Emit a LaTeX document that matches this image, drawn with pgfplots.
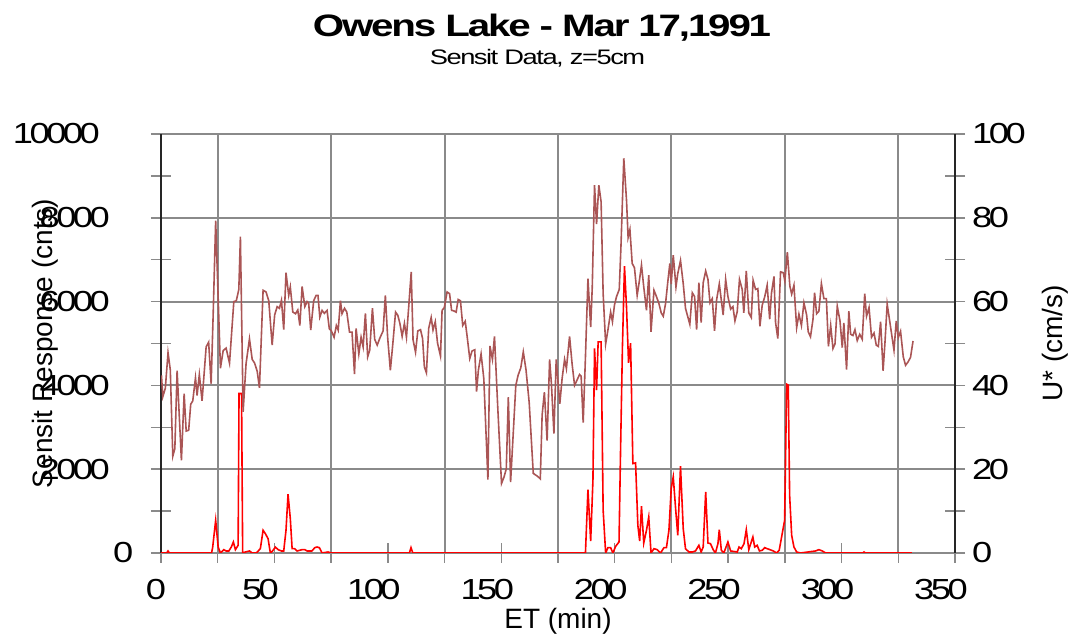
\documentclass[border=0pt]{standalone}
\usepackage{fontspec}
\setmainfont{Liberation Sans}
\newfontfamily\wide{Liberation Sans}[FakeStretch=1.3,LetterSpace=-7]
\newfontfamily\digits{Liberation Sans}[FakeStretch=1.25,LetterSpace=-12]
\usepackage{pgfplots}
\pgfplotsset{compat=1.18}
\definecolor{ustar}{RGB}{170,85,85}
\definecolor{gridc}{RGB}{138,138,138}
\newcommand\tickfnt{\digits\fontsize{29}{29}\selectfont}
\newcommand\labfnt{\fontsize{28}{28}\selectfont}

% U* (cm/s), right axis
\pgfplotstableread{
x u
0.2 42.4
0.8 37.3
1.9 39.3
3.1 47.8
4.1 43.7
5.2 23.1
6.1 24.9
7.1 43.5
9.0 22.1
10.2 38.0
11.1 29.1
12.2 29.3
13.1 35.5
14.0 36.3
15.2 41.8
15.9 37.6
16.9 42.6
18.1 36.3
19.9 49.2
21.0 50.3
22.1 40.4
23.0 57.0
24.1 79.3
26.2 44.1
27.4 48.3
28.7 48.9
30.2 45.3
32.1 60.0
33.2 60.2
34.3 62.9
35.0 75.5
36.2 33.7
37.5 45.2
39.0 51.1
40.2 46.2
41.2 45.4
42.4 43.4
43.4 39.4
45.0 62.7
46.3 62.3
47.5 60.2
49.0 49.6
50.1 56.8
51.2 58.8
52.2 58.4
53.1 60.3
54.1 53.3
55.1 66.9
56.3 61.5
57.0 63.5
58.1 57.5
59.3 57.1
60.3 58.0
61.2 54.3
62.2 63.6
63.4 58.8
64.4 60.0
65.1 59.6
66.0 53.2
67.3 60.2
68.4 61.5
69.2 61.5
70.0 56.3
71.0 57.9
72.0 57.2
73.2 57.9
74.2 53.5
75.1 53.0
76.3 51.5
77.3 54.3
78.1 53.2
79.1 60.2
79.8 57.1
80.9 58.4
81.9 57.5
83.1 52.7
84.2 52.7
85.3 42.7
86.0 53.6
87.2 47.5
88.2 51.5
89.1 49.2
90.1 57.2
91.1 46.8
92.0 48.4
93.2 58.4
94.2 51.0
95.3 49.6
96.4 51.2
97.9 53.0
98.9 61.5
99.9 51.5
101.1 43.6
102.2 50.0
103.4 57.5
104.4 56.7
105.3 54.8
106.3 51.7
107.3 54.8
108.2 51.5
109.2 58.8
110.3 67.1
111.1 50.9
112.2 47.9
113.2 53.0
114.4 53.3
115.3 51.2
116.1 44.4
117.0 43.0
118.0 53.6
119.1 56.2
119.9 53.2
120.9 55.2
121.9 50.1
123.2 47.0
123.9 57.9
124.9 58.6
126.1 62.3
127.2 61.9
128.1 57.9
129.0 57.8
130.1 57.5
131.0 60.5
132.0 60.2
133.0 54.3
134.1 55.3
134.9 51.9
136.1 46.4
137.1 48.2
138.3 48.5
139.1 38.5
139.9 43.6
141.1 47.5
142.3 41.6
144.1 17.5
145.0 49.4
146.1 46.2
147.0 51.7
148.5 34.1
150.1 16.6
151.2 18.1
152.2 20.1
153.1 37.2
154.1 16.9
155.3 28.9
156.4 40.0
157.4 42.4
158.6 44.2
159.7 48.0
160.9 43.7
162.3 35.9
164.1 19.0
166.0 18.3
167.2 17.7
168.0 32.9
169.0 38.4
170.2 26.8
171.3 46.2
172.1 40.4
173.2 28.5
174.2 46.2
174.9 41.6
175.8 35.6
176.8 41.6
177.9 46.2
178.7 44.0
180.1 51.7
181.2 45.2
182.3 40.0
183.5 41.4
184.5 42.6
185.2 42.2
186.1 31.1
187.1 46.8
188.2 65.5
189.4 53.9
190.1 63.5
191.1 87.8
192.0 78.5
193.0 87.8
194.0 83.8
194.9 61.9
196.0 49.9
197.0 53.2
198.2 57.5
199.0 55.2
199.9 59.2
200.8 61.2
202.0 62.9
202.8 73.9
204.0 94.2
205.2 84.2
205.9 75.3
206.7 77.2
207.7 69.1
208.7 68.1
209.9 61.5
210.8 64.7
211.8 68.7
212.8 63.5
214.0 57.9
215.0 66.3
216.0 52.8
217.3 62.7
218.4 61.2
219.5 59.5
220.5 57.3
221.4 56.5
222.4 59.5
223.4 64.7
224.3 69.1
224.9 64.2
225.8 71.1
227.0 63.5
227.8 66.7
229.0 69.8
230.2 64.3
231.2 58.4
232.3 56.2
233.1 54.6
234.2 62.1
235.2 61.2
236.1 53.3
237.1 64.5
238.1 55.0
239.0 64.5
240.1 67.3
241.1 65.3
242.0 59.7
243.0 60.7
244.0 53.0
244.9 60.4
246.1 64.2
247.8 56.8
248.9 65.3
249.9 61.2
251.1 58.2
252.1 58.8
253.0 55.4
254.0 57.6
255.0 65.3
256.2 62.9
256.9 57.3
258.0 67.3
259.1 57.3
260.2 56.2
261.0 65.1
262.1 62.9
263.1 63.1
264.0 54.1
265.0 59.1
266.1 61.1
267.2 63.9
268.3 55.8
269.1 62.0
270.2 66.0
270.9 55.0
271.9 51.2
273.1 67.1
274.3 66.9
275.0 64.9
276.1 71.8
277.2 63.7
278.0 61.8
279.0 63.9
280.2 53.8
281.2 57.0
282.3 54.3
283.4 59.7
284.6 56.8
285.3 52.8
286.3 51.6
287.4 55.8
288.1 62.1
289.0 57.1
290.0 57.7
291.1 64.3
292.2 60.7
293.3 60.7
294.2 49.3
295.2 54.3
296.2 48.8
297.1 49.9
298.1 58.9
299.3 55.4
300.3 49.0
301.0 54.9
302.2 43.8
303.2 57.7
304.0 52.2
305.0 51.9
305.9 53.3
306.9 50.7
308.0 52.2
309.1 51.0
310.2 61.9
311.0 56.5
312.1 58.6
313.2 51.5
314.3 52.5
315.3 49.6
316.2 49.3
317.2 55.2
318.3 43.5
319.1 50.0
320.1 59.4
321.2 55.4
323.1 48.4
324.1 55.4
325.0 51.4
326.0 52.9
327.2 46.8
328.2 44.8
329.3 45.6
330.4 46.7
331.5 50.6
}\ustartab

% Sensit response (counts), left axis
\pgfplotstableread{
x s
0.0 0
2.5 0
3.1 48
3.7 0
22.3 0
22.8 143
24.1 781
25.2 143
26.2 0
27.7 80
28.7 48
29.9 48
31.0 143
31.9 263
32.8 80
34.0 183
34.4 3806
35.5 3806
36.0 0
37.2 24
39.0 48
40.2 0
42.0 0
43.8 103
45.0 542
46.0 462
47.2 342
48.2 0
49.2 48
50.4 143
51.6 80
53.1 48
54.1 48
55.1 542
56.0 1402
57.0 820
57.8 103
58.9 103
60.0 48
62.2 80
63.4 80
64.4 48
66.5 48
67.8 127
68.8 143
69.8 127
71.0 0
73.6 24
75.0 0
109.5 0
110.2 127
111.0 0
187.1 0
188.2 1514
189.4 287
190.4 1736
191.1 4881
192.0 3885
192.7 5039
194.0 5039
194.9 1020
196.0 0
197.0 127
198.2 127
199.2 0
200.4 159
201.9 263
202.6 2531
203.4 4919
204.3 6846
205.2 5874
206.1 4537
207.0 5010
208.0 2134
209.2 2150
210.2 660
211.0 287
211.8 1115
212.8 239
214.0 542
215.0 860
216.0 0
217.3 103
218.7 80
220.2 0
221.7 127
222.8 127
223.9 542
224.9 1538
225.8 1816
226.9 1020
227.8 422
229.0 2070
230.2 581
231.2 103
232.7 24
234.2 24
235.6 48
237.1 183
238.1 24
239.0 143
240.1 1457
241.1 239
242.2 223
243.4 80
244.4 0
245.5 223
246.1 557
247.0 64
248.1 0
249.9 263
251.1 48
254.0 24
254.8 143
255.8 103
257.0 223
258.0 557
259.1 80
260.9 382
261.7 143
262.8 183
263.8 48
265.0 64
266.1 127
267.2 103
268.4 80
269.9 48
271.4 0
272.5 64
273.7 422
274.9 781
275.8 4028
276.5 4005
277.1 1378
278.0 422
279.0 143
280.2 24
281.9 0
288.5 48
290.0 80
291.5 48
293.0 0
309.3 0
309.9 24
310.5 0
331.0 0
}\sensittab

\begin{document}
\begin{tikzpicture}
\useasboundingbox (-161pt,-91pt) rectangle (925pt,553pt);
\begin{axis}[
    at={(0pt,0pt)}, anchor=south west,
    width=794pt, height=419pt, scale only axis,
    xmin=0, xmax=350, ymin=0, ymax=10000,
    axis x line*=box, axis y line*=left,
    x axis line style={gridc, line width=2pt},
    y axis line style={black!85, line width=2pt},
    xtick={0,50,...,350},
    xticklabels={\hspace*{18pt}0,50,100,150,200,250,300,350},
    minor xtick={25,75,...,325},
    ytick={0,2000,...,10000},
    yticklabels={0\hspace*{-28pt},2000,4000,6000,8000,10000\hspace*{10pt}},
    minor ytick={1000,3000,...,9000},
    xminorgrids, ymajorgrids,
    major grid style={gridc, line width=2pt},
    minor grid style={gridc, line width=2pt},
    tick align=center, major tick length=20pt, minor tick length=20pt,
    tick style={gridc, line width=1.5pt},
    xtick pos=bottom, ytick pos=left,
    scaled y ticks=false,
    xticklabel style={font=\tickfnt, anchor=north, inner sep=0pt, xshift=-14pt, yshift=-16pt},
    yticklabel style={font=\tickfnt, anchor=east, inner sep=0pt, xshift=-41pt},
]
\addplot[red, line width=1.6pt] table[x=x, y=s] {\sensittab};
\end{axis}
\begin{axis}[
    at={(0pt,0pt)}, anchor=south west,
    width=794pt, height=419pt, scale only axis,
    xmin=0, xmax=350, ymin=0, ymax=100,
    axis x line=none, axis y line*=right,
    y axis line style={black!85, line width=2pt},
    ytick={0,20,...,100}, yticklabels={0,20,40,60,80,100},
    minor ytick={10,30,...,90},
    tick align=center, major tick length=20pt, minor tick length=20pt,
    tick style={gridc, line width=1.5pt},
    yticklabel style={font=\tickfnt, anchor=west, inner sep=0pt, xshift=7pt},
]
\addplot[ustar, line width=1.6pt] table[x=x, y=u] {\ustartab};
\end{axis}
\node[rotate=90, font=\labfnt] at (-116pt,209.5pt) {Sensit Response (cnts)};
\node[rotate=90, font=\labfnt] at (894pt,209.5pt) {U* (cm/s)};
\node[anchor=base, font=\labfnt] at (397pt,-76pt) {ET (min)};
\node[anchor=base, font={\wide\bfseries\fontsize{31}{31}\selectfont}] at (381pt,516pt) {Owens Lake - Mar 17,1991};
\node[anchor=base, font={\wide\fontsize{21}{21}\selectfont}] at (376.5pt,488pt) {Sensit Data, z=5cm};
\end{tikzpicture}
\end{document}
